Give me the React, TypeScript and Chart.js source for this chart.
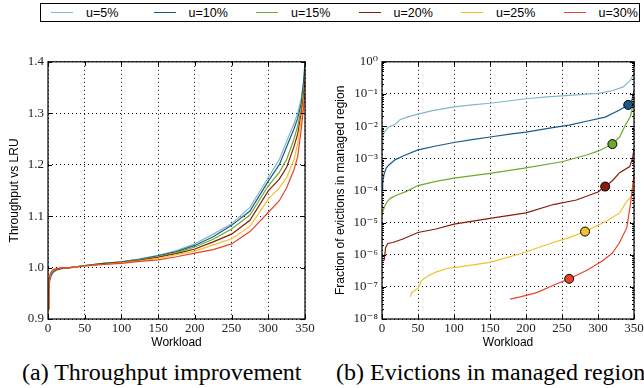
import React, { useEffect, useRef } from "react";
import { Chart, registerables } from "chart.js";
Chart.register(...registerables);

const SERIF = "'Liberation Serif', 'DejaVu Serif', serif";
const SANS = "'Liberation Sans', Arial, sans-serif";

const seriesLabels = ["u=5%", "u=10%", "u=15%", "u=20%", "u=25%", "u=30%"];
const seriesColors = ["#82b8cb", "#1b5a86", "#6cab2d", "#8a1c0c", "#f2c12b", "#e8412c"];

// (a) Throughput vs LRU
const tpWorkload = [0, 1, 2, 4, 7, 12, 20, 30, 50, 75, 100, 125, 150, 175, 200, 225, 250, 275, 300, 315, 325, 335, 340, 345, 348, 350];
const tpU5 = [0.92, 0.95, 0.97, 0.982, 0.99, 0.995, 0.998, 1.0, 1.004, 1.008, 1.011, 1.017, 1.024, 1.033, 1.046, 1.065, 1.085, 1.117, 1.175, 1.21, 1.245, 1.28, 1.3, 1.33, 1.36, 1.39];
const tpU10 = [0.92, 0.955, 0.975, 0.985, 0.992, 0.996, 0.999, 1.0, 1.004, 1.008, 1.011, 1.016, 1.023, 1.031, 1.043, 1.06, 1.082, 1.11, 1.168, 1.2, 1.235, 1.27, 1.29, 1.32, 1.36, 1.4];
const tpU15 = [0.92, 0.955, 0.977, 0.987, 0.993, 0.997, 0.999, 1.0, 1.004, 1.007, 1.01, 1.015, 1.021, 1.029, 1.04, 1.055, 1.075, 1.102, 1.159, 1.185, 1.21, 1.25, 1.275, 1.31, 1.34, 1.37];
const tpU20 = [0.92, 0.958, 0.978, 0.988, 0.994, 0.997, 0.999, 1.0, 1.003, 1.007, 1.01, 1.014, 1.02, 1.027, 1.036, 1.05, 1.065, 1.092, 1.149, 1.172, 1.195, 1.235, 1.26, 1.3, 1.33, 1.36];
const tpU25 = [0.92, 0.96, 0.98, 0.99, 0.995, 0.998, 1.0, 1.0, 1.003, 1.006, 1.009, 1.013, 1.018, 1.025, 1.032, 1.044, 1.056, 1.08, 1.133, 1.155, 1.175, 1.21, 1.24, 1.29, 1.32, 1.35];
const tpU30 = [0.92, 0.96, 0.982, 0.991, 0.996, 0.998, 1.0, 1.0, 1.003, 1.006, 1.008, 1.012, 1.015, 1.021, 1.028, 1.035, 1.046, 1.07, 1.107, 1.13, 1.155, 1.19, 1.215, 1.27, 1.31, 1.34];
const tpSeries = [tpU5, tpU10, tpU15, tpU20, tpU25, tpU30];
const tpXTicks = [0, 50, 100, 150, 200, 250, 300, 350];
const tpYTicks = [0.9, 1.0, 1.1, 1.2, 1.3, 1.4];

// (b) Fraction of evictions in managed region (values given as log10 exponents)
const evW5 = [0, 1, 3, 6, 10, 18, 25, 35, 50, 70, 100, 125, 150, 175, 200, 225, 250, 275, 300, 320, 335, 345, 350];
const evE5 = [-2.7, -2.35, -2.2, -2.1, -2.02, -1.95, -1.8, -1.72, -1.63, -1.52, -1.4, -1.34, -1.29, -1.22, -1.15, -1.1, -1.06, -1.02, -0.98, -0.9, -0.78, -0.58, -0.35];
const evW10 = [0, 1, 3, 6, 10, 18, 30, 50, 75, 100, 125, 150, 180, 200, 237, 260, 284, 310, 330, 342, 347, 350];
const evE10 = [-3.97, -3.75, -3.48, -3.3, -3.2, -3.05, -2.92, -2.74, -2.62, -2.51, -2.42, -2.34, -2.24, -2.19, -2.05, -1.97, -1.85, -1.72, -1.5, -1.34, -1.2, -0.9];
const evW15 = [0, 2, 5, 8, 12, 20, 34, 50, 75, 100, 150, 200, 250, 284, 300, 320, 330, 339, 345, 350];
const evE15 = [-4.74, -4.6, -4.43, -4.33, -4.24, -4.15, -4.03, -3.85, -3.72, -3.62, -3.47, -3.3, -3.11, -2.9, -2.78, -2.56, -2.34, -1.93, -1.7, -1.2];
const evW20 = [3, 5, 8, 15, 29, 50, 75, 100, 150, 200, 238, 270, 284, 300, 310, 320, 330, 344, 348, 350];
const evE20 = [-6.18, -5.78, -5.65, -5.62, -5.51, -5.31, -5.2, -5.05, -4.87, -4.7, -4.44, -4.3, -4.18, -4.05, -3.88, -3.7, -3.45, -3.26, -3.0, -2.7];
const evW25 = [39, 42, 50, 55, 65, 75, 90, 100, 150, 192, 238, 260, 282, 312, 330, 340, 346, 349, 350];
const evE25 = [-7.31, -7.16, -7.05, -6.8, -6.65, -6.54, -6.43, -6.4, -6.24, -5.97, -5.62, -5.47, -5.28, -4.95, -4.7, -4.34, -4.2, -4.0, -3.4];
const evW30 = [178, 192, 215, 238, 260, 284, 307, 320, 330, 340, 345, 348, 350];
const evE30 = [-7.38, -7.31, -7.18, -6.95, -6.75, -6.49, -6.18, -5.95, -5.62, -5.16, -4.43, -3.9, -3.5];
const evWs = [evW5, evW10, evW15, evW20, evW25, evW30];
const evEs = [evE5, evE10, evE15, evE20, evE25, evE30];
// highlighted points (series index, workload, log10 value)
const markerSeries = [1, 2, 3, 4, 5];
const markerW = [342, 320, 310, 282, 260];
const markerE = [-1.34, -2.56, -3.88, -5.28, -6.75];
const evYExponents = [-8, -7, -6, -5, -4, -3, -2, -1, 0];

const SUP: Record<string, string> = { "0": "\u2070", "1": "\u00b9", "2": "\u00b2", "3": "\u00b3", "4": "\u2074", "5": "\u2075", "6": "\u2076", "7": "\u2077", "8": "\u2078", "9": "\u2079", "-": "\u207b" };
const sup = (s: string) => s.split("").map((c) => SUP[c] || c).join("");

const framePlugin = {
  id: "frame",
  afterDraw(chart: any, _args: any, opts: any) {
    const { ctx, chartArea: a, scales } = chart;
    ctx.save();
    ctx.strokeStyle = "#000";
    ctx.lineWidth = 1;
    const xs = scales.x, ys = scales.y;
    const tick = (x1: number, y1: number, x2: number, y2: number) => {
      ctx.beginPath();
      ctx.moveTo(x1, y1);
      ctx.lineTo(x2, y2);
      ctx.stroke();
    };
    xs.ticks.forEach((t: any) => {
      const p = Math.round(xs.getPixelForValue(t.value)) + 0.5;
      tick(p, a.bottom, p, a.bottom - 4);
      tick(p, a.top, p, a.top + 4);
    });
    ys.ticks.forEach((t: any) => {
      const p = Math.round(ys.getPixelForValue(t.value)) + 0.5;
      tick(a.left, p, a.left + 4, p);
      tick(a.right, p, a.right - 4, p);
    });
    if (opts && opts.minor) {
      for (let e = -8; e < 0; e++) {
        for (let k = 2; k <= 9; k++) {
          const p = Math.round(ys.getPixelForValue(k * Math.pow(10, e))) + 0.5;
          tick(a.left, p, a.left + 2, p);
          tick(a.right, p, a.right - 2, p);
        }
      }
    }
    ctx.lineWidth = 1.2;
    ctx.strokeRect(a.left, a.top, a.right - a.left, a.bottom - a.top);
    ctx.restore();
  },
};

const gridOpts = { color: "#000", lineWidth: 1, drawTicks: false };
const borderOpts = { display: false, dash: [1, 3] };
const tickFont = { family: SERIF, size: 13 };

export default function App() {
  const leftRef = useRef<HTMLCanvasElement>(null);
  const rightRef = useRef<HTMLCanvasElement>(null);

  useEffect(() => {
    const left = new Chart(leftRef.current!, {
      type: "line",
      data: {
        datasets: tpSeries.map((s, i) => ({
          label: seriesLabels[i],
          data: s.map((v, j) => ({ x: tpWorkload[j], y: v })),
          borderColor: seriesColors[i],
          backgroundColor: seriesColors[i],
          borderWidth: 1.2,
          pointRadius: 0,
          tension: 0,
          order: 6 - i,
        })),
      },
      options: {
        animation: false,
        responsive: false,
        devicePixelRatio: 1,
        layout: { padding: { left: 0, right: 17, top: 10, bottom: 0 } },
        plugins: { legend: { display: false }, tooltip: { enabled: false }, frame: {} } as any,
        scales: {
          x: {
            type: "linear",
            min: 0,
            max: 350,
            afterBuildTicks: (s: any) => { s.ticks = tpXTicks.map((v) => ({ value: v })); },
            afterFit: (s: any) => { s.height = 31; },
            ticks: { font: tickFont, color: "#222", padding: 2, maxRotation: 0 },
            grid: gridOpts,
            border: borderOpts,
            title: { display: true, text: "Workload", font: { family: SANS, size: 12 }, color: "#000", padding: { top: 0, bottom: 0 } },
          },
          y: {
            type: "linear",
            min: 0.9,
            max: 1.4,
            afterBuildTicks: (s: any) => { s.ticks = tpYTicks.map((v) => ({ value: v })); },
            afterFit: (s: any) => { s.width = 48; },
            ticks: { font: tickFont, color: "#222", padding: 4, callback: (v: any) => Number(v).toFixed(1) },
            grid: gridOpts,
            border: borderOpts,
            title: { display: true, text: "Throughput vs LRU", font: { family: SANS, size: 12 }, color: "#000", padding: { top: 7, bottom: 0 } },
          },
        },
      } as any,
      plugins: [framePlugin],
    });

    const lineSets = evWs.map((ws, i) => ({
      type: "line",
      label: seriesLabels[i],
      data: ws.map((w, j) => ({ x: w, y: Math.pow(10, evEs[i][j]) })),
      borderColor: seriesColors[i],
      backgroundColor: seriesColors[i],
      borderWidth: 1.2,
      pointRadius: 0,
      tension: 0,
      order: 6 - i,
    }));
    const markerSets = markerSeries.map((si, k) => ({
      type: "scatter",
      label: seriesLabels[si] + " marker",
      data: [{ x: markerW[k], y: Math.pow(10, markerE[k]) }],
      borderColor: "#000",
      backgroundColor: seriesColors[si],
      borderWidth: 1,
      pointRadius: 4.5,
      order: -1,
    }));

    const right = new Chart(rightRef.current!, {
      type: "line",
      data: { datasets: [...lineSets, ...markerSets] as any },
      options: {
        animation: false,
        responsive: false,
        devicePixelRatio: 1,
        layout: { padding: { left: 0, right: 28, top: 9, bottom: 0 } },
        plugins: { legend: { display: false }, tooltip: { enabled: false }, frame: { minor: true } } as any,
        scales: {
          x: {
            type: "linear",
            min: 0,
            max: 350,
            afterBuildTicks: (s: any) => { s.ticks = tpXTicks.map((v) => ({ value: v })); },
            afterFit: (s: any) => { s.height = 31; },
            ticks: { font: tickFont, color: "#222", padding: 2, maxRotation: 0 },
            grid: gridOpts,
            border: borderOpts,
            title: { display: true, text: "Workload", font: { family: SANS, size: 12 }, color: "#000", padding: { top: 0, bottom: 0 } },
          },
          y: {
            type: "logarithmic",
            min: 1e-8,
            max: 1,
            afterBuildTicks: (s: any) => { s.ticks = evYExponents.map((e) => ({ value: Math.pow(10, e) })); },
            afterFit: (s: any) => { s.width = 60; },
            ticks: {
              font: tickFont,
              color: "#222",
              padding: 4,
              callback: (v: any) => "10" + sup(String(Math.round(Math.log10(Number(v))))),
            },
            grid: gridOpts,
            border: borderOpts,
            title: { display: true, text: "Fraction of evictions in managed region", font: { family: SANS, size: 12 }, color: "#000", padding: { top: 11, bottom: 0 } },
          },
        },
      } as any,
      plugins: [framePlugin],
    });

    return () => {
      left.destroy();
      right.destroy();
    };
  }, []);

  const captionStyle: React.CSSProperties = {
    position: "absolute",
    top: 358,
    fontFamily: SERIF,
    fontSize: 24,
    lineHeight: "28px",
    whiteSpace: "nowrap",
    color: "#000",
  };

  return (
    <div style={{ position: "fixed", left: 0, top: 0, width: 644, height: 388, overflow: "hidden", background: "#fff" }}>
      <div style={{ position: "absolute", left: 40, top: 3, width: 600, height: 19, border: "1px solid #000", boxSizing: "border-box" }}>
        {seriesLabels.map((lab, i) => (
          <div key={lab} style={{ position: "absolute", left: 10 + i * 102.5, top: 0, height: 17, display: "flex", alignItems: "center" }}>
            <div style={{ width: 22, height: 0, borderTop: `1.5px solid ${seriesColors[i]}` }} />
            <span style={{ marginLeft: 13, fontFamily: SANS, fontSize: 12.5, color: "#000" }}>{lab}</span>
          </div>
        ))}
      </div>
      <canvas ref={leftRef} width={322} height={300} style={{ position: "absolute", left: 0, top: 50, width: 322, height: 300 }} />
      <canvas ref={rightRef} width={340} height={300} style={{ position: "absolute", left: 322, top: 50, width: 340, height: 300 }} />
      <div style={{ ...captionStyle, left: 22 }}>(a) Throughput improvement</div>
      <div style={{ ...captionStyle, left: 336 }}>(b) Evictions in managed region</div>
    </div>
  );
}
